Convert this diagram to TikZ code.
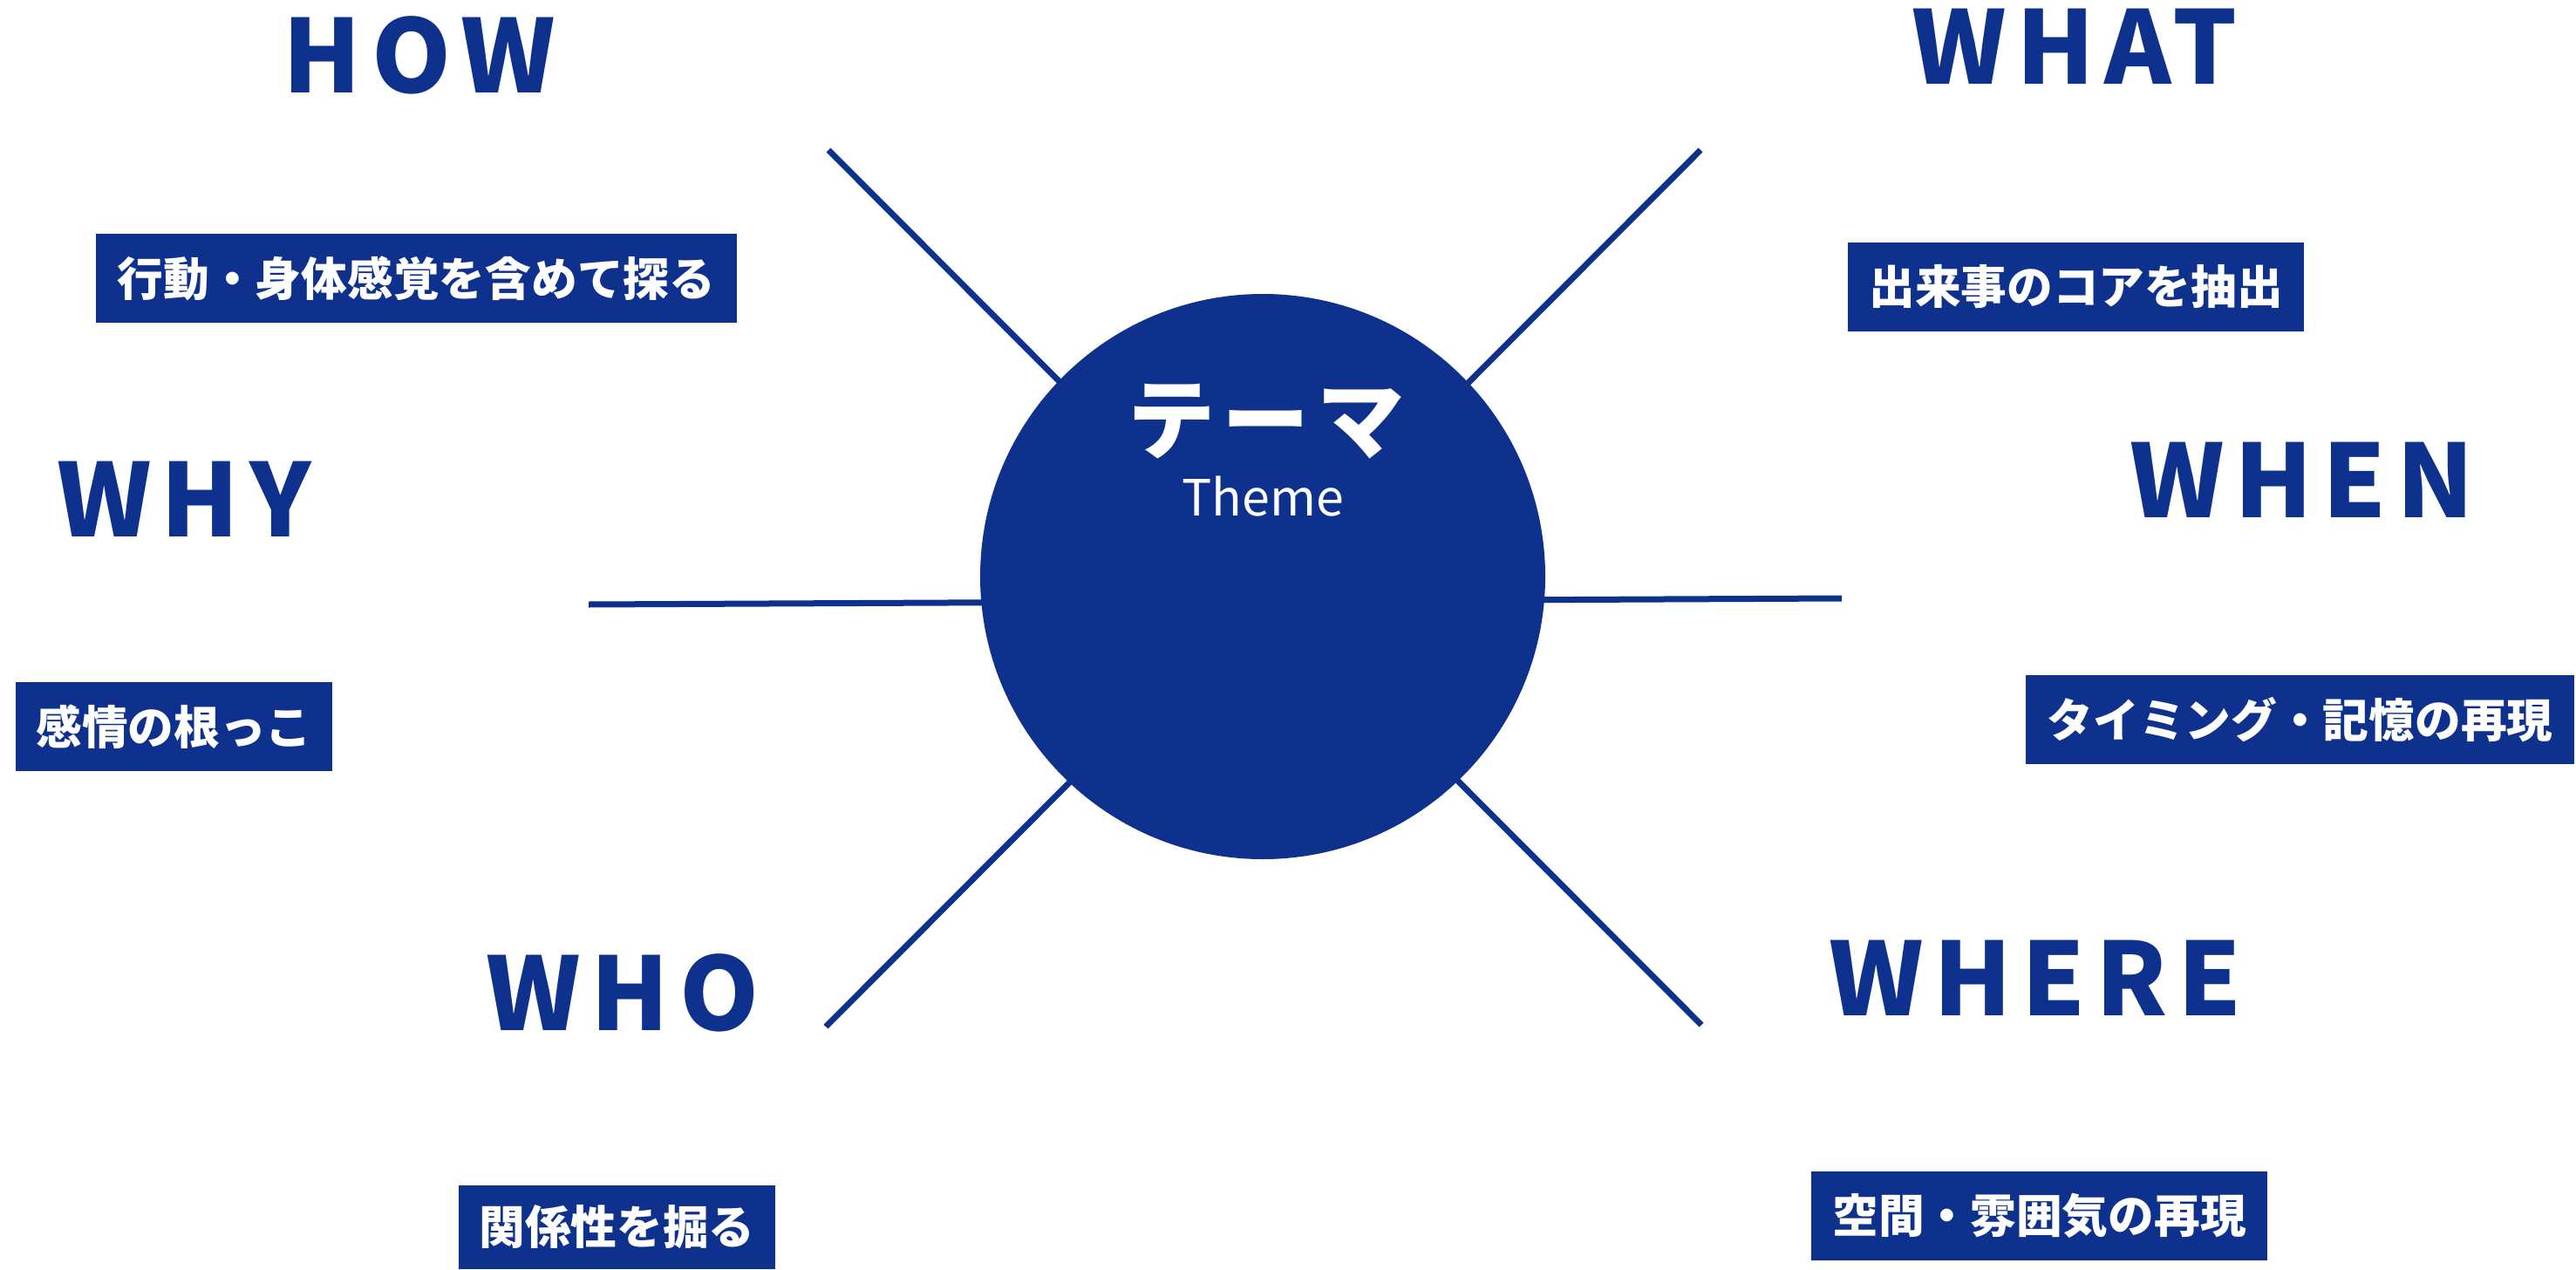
\documentclass[tikz,border=0pt]{standalone}
\usepackage{fontspec}
\setmainfont{Noto Sans CJK JP}
\newfontfamily\headfont[LetterSpace=10]{Noto Sans CJK JP}
\newfontfamily\themefont[LetterSpace=8]{Noto Sans CJK JP}
\definecolor{navy}{RGB}{14,49,142}
\begin{document}
\begin{tikzpicture}[
  spoke/.style={draw=navy, line width=0.07cm},
  head/.style={text=navy, inner sep=0pt, anchor=base, font=\headfont\bfseries\fontsize{33}{33}\selectfont},
  tagbox/.style={fill=navy, text=white, inner sep=0pt, minimum height=1.02cm, font=\bfseries\fontsize{15}{15}\selectfont}
]
\useasboundingbox (0,0) rectangle (29.54,-14.55);
% spoke end points
\coordinate (phow) at (9.50,-1.72);
\coordinate (pwhere) at (19.51,-11.75);
\coordinate (pwhat) at (19.50,-1.72);
\coordinate (pwho) at (9.47,-11.77);
\coordinate (pwhy) at (6.75,-6.93);
\coordinate (pwhen) at (21.12,-6.86);
\draw[spoke] (phow) -- (pwhere);
\draw[spoke] (pwhat) -- (pwho);
\draw[spoke] (pwhy) -- (pwhen);
% centre
\node[circle, fill=navy, minimum size=6.48cm, inner sep=0pt] (theme) at (14.48,-6.61) {};
\node[text=white, inner sep=0pt, font=\themefont\bfseries\fontsize{28.5}{28.5}\selectfont] (tja) at (14.52,-4.83) {テーマ};
\node[text=white, inner sep=0pt, anchor=base, font=\fontsize{16.3}{16.3}\selectfont] (ten) at (14.48,-5.91) {Theme};
% headings
\node[head] (how) at (4.81,-1.07) {HOW};
\node[head] (what) at (23.79,-0.97) {WHAT};
\node[head] (why) at (2.11,-6.15) {WHY};
\node[head] (when) at (26.40,-5.93) {WHEN};
\node[head] (who) at (7.14,-11.81) {WHO};
\node[head] (where) at (23.34,-11.64) {WHERE};
% tags
\node[tagbox, minimum width=7.35cm] (thow) at (4.775,-3.19) {行動・身体感覚を含めて探る};
\node[tagbox, minimum width=5.23cm] (twhat) at (23.805,-3.29) {出来事のコアを抽出};
\node[tagbox, minimum width=3.63cm] (twhy) at (1.995,-8.33) {感情の根っこ};
\node[tagbox, minimum width=6.29cm] (twhen) at (26.375,-8.25) {タイミング・記憶の再現};
\node[tagbox, minimum width=3.63cm, minimum height=0.96cm] (twho) at (7.075,-14.07) {関係性を掘る};
\node[tagbox, minimum width=5.23cm] (twhere) at (23.385,-13.94) {空間・雰囲気の再現};
\end{tikzpicture}
\end{document}
